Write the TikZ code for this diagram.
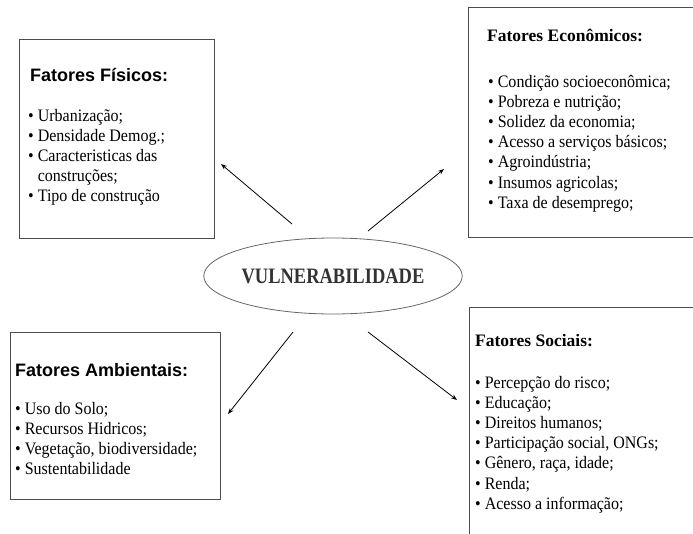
\documentclass[tikz,border=0pt]{standalone}
\usepackage{graphicx}
\usepackage{fontspec}
\setmainfont{Liberation Serif}
\newfontfamily\arialfont{Liberation Sans}
\usetikzlibrary{positioning}
\usetikzlibrary{shapes.geometric}
\usetikzlibrary{arrows.meta}
\tikzset{
    caixa/.style={
        draw=black!70,    % borda cinza escura
        line width=1.2,
        anchor=north west,
        inner sep=0
    },
    titulosans/.style={anchor=base west, inner sep=0,
        font=\arialfont\bfseries\fontsize{18}{20}\selectfont},
    tituloserif/.style={anchor=base west, inner sep=0,
        font=\bfseries\fontsize{17.5}{20}\selectfont},
    lista/.style={anchor=base west, inner sep=0,
        font=\fontsize{17.5}{20.2}\selectfont},
    seta/.style={-{Stealth[length=6pt,width=4.5pt]}, line width=0.8}
}
\newcommand{\pto}{•\ }
% lista com letra estreitada
\newcommand{\itens}[1]{\scalebox{0.915}[1]{\begin{tabular}[t]{@{}l@{}}#1\end{tabular}}}

\begin{document}
\begin{tikzpicture}[x=1pt, y=1pt]
\useasboundingbox (0,0) rectangle (693,-533);

% elipse central
\node[ellipse, draw=black!60, line width=0.8, minimum width=214, minimum height=76,
      inner sep=0, text=black!80, font=\bfseries\fontsize{22}{24}\selectfont]
      (vul) at (333,-276) {\scalebox{0.84}[1]{VULNERABILIDADE}};

% caixas (as da direita passam da borda)
\node[caixa, minimum width=195, minimum height=199] (fis) at (19,-39) {};
\node[caixa, minimum width=300, minimum height=230] (eco) at (468,-7) {};
\node[caixa, minimum width=210, minimum height=167] (amb) at (10,-332) {};
\node[caixa, minimum width=300, minimum height=300] (soc) at (469,-307) {};

% textos
\node[titulosans] (fistit) at (30,-81) {Fatores Físicos:};
\node[lista] (fislis) at (28,-121) {\itens{\pto Urbanização;\\
    \pto Densidade Demog.;\\
    \pto Caracteristicas das\\
    \phantom{\pto}construções;\\
    \pto Tipo de construção}};

\node[tituloserif] (ecotit) at (487,-41) {Fatores Econômicos:};
\node[lista] (ecolis) at (488,-87) {\itens{\pto Condição socioeconômica;\\
    \pto Pobreza e nutrição;\\
    \pto Solidez da economia;\\
    \pto Acesso a serviços básicos;\\
    \pto Agroindústria;\\
    \pto Insumos agricolas;\\
    \pto Taxa de desemprego;}};

\node[titulosans] (ambtit) at (15,-376) {Fatores Ambientais:};
\node[lista] (amblis) at (15,-414) {\itens{\pto Uso do Solo;\\
    \pto Recursos Hidricos;\\
    \pto Vegetação, biodiversidade;\\
    \pto Sustentabilidade}};

\node[tituloserif] (soctit) at (475,-346) {Fatores Sociais:};
\node[lista] (soclis) at (475,-388) {\itens{\pto Percepção do risco;\\
    \pto Educação;\\
    \pto Direitos humanos;\\
    \pto Participação social, ONGs;\\
    \pto Gênero, raça, idade;\\
    \pto Renda;\\
    \pto Acesso a informação;}};

% setas
\coordinate (s1) at (292,-224);
\coordinate (p1) at (221,-164);
\coordinate (s2) at (368,-231);
\coordinate (p2) at (444,-169);
\coordinate (s3) at (293,-332);
\coordinate (p3) at (228,-414);
\coordinate (s4) at (368,-332);
\coordinate (p4) at (457,-400);
\draw[seta] (s1) -- (p1);
\draw[seta] (s2) -- (p2);
\draw[seta] (s3) -- (p3);
\draw[seta] (s4) -- (p4);

\end{tikzpicture}
\end{document}
